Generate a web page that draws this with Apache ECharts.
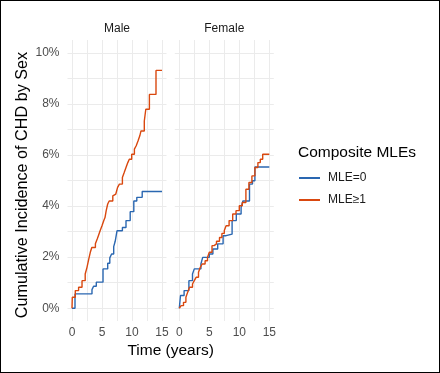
<!DOCTYPE html>
<html>
<head>
<meta charset="utf-8">
<script src="https://cdn.jsdelivr.net/npm/echarts@6/dist/echarts.min.js"></script>
<style>
html,body{margin:0;padding:0;background:#fff;}
#c{width:438px;height:371px;border:1px solid #000;}
</style>
</head>
<body>
<div id="c"></div>
<script>
// Data (time in years, cumulative incidence in %)
const panels = ["Male", "Female"];
const seriesNames = ["MLE=0", "MLE≥1"];
const xTickLabels = [0, 5, 10, 15];
const yTickLabels = [0, 2, 4, 6, 8, 10];

const maleMLE0_t = [0, 0.5, 3.33, 3.6, 4.05, 5.17, 5.95, 6.3, 6.6, 6.95, 7.2, 7.5, 8.4, 9.0, 9.7, 10.3, 10.8, 11.7, 15];
const maleMLE0_v = [0, 0.56, 0.73, 0.86, 1.02, 1.54, 1.76, 1.97, 2.12, 2.41, 2.62, 3.03, 3.16, 3.43, 3.78, 4.2, 4.34, 4.57, 4.57];

const maleMLE1_t = [0, 0.05, 0.55, 1.1, 1.67, 2.2, 2.5, 2.8, 3.05, 3.3, 3.9, 4.2, 4.4, 4.7, 5.0, 5.3, 5.5, 5.7, 5.95, 6.2, 6.8, 7.05, 7.3, 7.6, 7.9, 8.4, 8.7, 9.0, 9.3, 9.55, 9.95, 10.4, 10.7, 11.0, 11.3, 11.5, 12.05, 12.3, 12.9, 14.0, 15];
const maleMLE1_v = [0, 0.43, 0.69, 0.82, 1.08, 1.34, 1.6, 1.93, 2.19, 2.38, 2.52, 2.71, 2.84, 3.04, 3.23, 3.43, 3.55, 3.82, 4.08, 4.2, 4.4, 4.47, 4.53, 4.73, 4.86, 5.12, 5.31, 5.51, 5.70, 5.83, 6.03, 6.23, 6.36, 6.55, 6.75, 6.94, 7.33, 7.79, 8.37, 9.31, 9.31];

const femaleMLE0_t = [0, 0.2, 0.8, 1.6, 2.2, 2.5, 3.6, 3.9, 5.0, 5.6, 6.4, 7.3, 7.8, 8.8, 9.5, 10.3, 10.6, 11.7, 12.2, 12.6, 15];
const femaleMLE0_v = [0, 0.5, 0.69, 1.08, 1.34, 1.54, 1.73, 1.99, 2.12, 2.32, 2.52, 2.84, 2.9, 3.43, 3.69, 3.95, 4.2, 4.86, 4.99, 5.53, 5.53];

const femaleMLE1_t = [0, 0.3, 0.7, 1.1, 1.4, 1.7, 2.2, 2.5, 2.8, 3.2, 3.5, 3.8, 4.3, 4.7, 5.0, 5.45, 5.8, 6.2, 6.7, 7.1, 7.5, 7.8, 8.3, 8.9, 9.45, 10.0, 10.5, 11.1, 11.6, 12.1, 12.6, 13.1, 13.5, 13.9, 15];
const femaleMLE1_v = [0, 0.1, 0.23, 0.43, 0.63, 0.82, 0.95, 1.08, 1.21, 1.41, 1.6, 1.73, 1.86, 1.99, 2.19, 2.45, 2.52, 2.62, 2.77, 2.93, 3.04, 3.23, 3.43, 3.69, 3.82, 4.01, 4.14, 4.66, 4.92, 5.18, 5.51, 5.70, 5.83, 6.03, 6.03];

const colors = ["#2A67B1", "#D9480F"];
const pair = (t, v) => t.map((x, i) => [x, v[i]]);
const dataSets = [
  [pair(maleMLE0_t, maleMLE0_v), pair(maleMLE1_t, maleMLE1_v)],
  [pair(femaleMLE0_t, femaleMLE0_v), pair(femaleMLE1_t, femaleMLE1_v)]
];

const gridLefts = [66.5, 173.8];
const gridW = 99, gridTop = 39, gridH = 281;
const font = "Liberation Sans, Arial, sans-serif";

const xMinorTicks = [0, 2.5, 5, 7.5, 10, 12.5, 15];
const yMinorTicks = [0, 1, 2, 3, 4, 5, 6, 7, 8, 9, 10];

const chart = echarts.init(document.getElementById('c'), null, {renderer: 'canvas'});

const grids = [], xAxes = [], yAxes = [], series = [];
panels.forEach((p, i) => {
  grids.push({left: gridLefts[i], top: gridTop, width: gridW, height: gridH, containLabel: false});
  xAxes.push({
    type: 'value', gridIndex: i, min: -0.75, max: 15.75,
    axisLine: {show: false},
    axisTick: {show: false, customValues: xMinorTicks},
    axisLabel: {customValues: xTickLabels, color: '#4D4D4D', fontSize: 12, fontFamily: font, margin: 6},
    splitLine: {show: true, lineStyle: {color: '#EBEBEB', width: 1}}
  });
  yAxes.push({
    type: 'value', gridIndex: i, min: -0.5, max: 10.5,
    axisLine: {show: false},
    axisTick: {show: false, customValues: yMinorTicks},
    axisLabel: {show: i === 0, customValues: yTickLabels, formatter: v => v + '%', color: '#4D4D4D', fontSize: 12, fontFamily: font, margin: 8},
    splitLine: {show: true, lineStyle: {color: '#EBEBEB', width: 1}}
  });
  dataSets[i].forEach((d, k) => {
    series.push({
      name: seriesNames[k], type: 'line', step: 'end',
      xAxisIndex: i, yAxisIndex: i,
      data: d, showSymbol: false, symbol: 'none',
      lineStyle: {color: colors[k], width: 1.4},
      itemStyle: {color: colors[k]},
      z: 3 + k, silent: true, animation: false
    });
  });
});

chart.setOption({
  animation: false,
  backgroundColor: '#fff',
  grid: grids,
  xAxis: xAxes,
  yAxis: yAxes,
  series: series,
  legend: {
    data: seriesNames,
    orient: 'vertical',
    left: 293, top: 166,
    itemWidth: 21, itemHeight: 2, itemGap: 10,
    icon: 'rect',
    textStyle: {color: '#1A1A1A', fontSize: 12, fontFamily: font, padding: [0, 0, 0, 3]}
  },
  graphic: [
    {type: 'text', left: 297, top: 144, style: {text: 'Composite MLEs', fontSize: 15.5, fontFamily: font, fill: '#000'}},
    {type: 'text', x: 116, y: 28, style: {text: panels[0], fontSize: 12, fontFamily: font, fill: '#1A1A1A', align: 'center', verticalAlign: 'middle'}},
    {type: 'text', x: 223.3, y: 28, style: {text: panels[1], fontSize: 12, fontFamily: font, fill: '#1A1A1A', align: 'center', verticalAlign: 'middle'}},
    {type: 'text', x: 169.6, y: 350, style: {text: 'Time (years)', fontSize: 15.5, fontFamily: font, fill: '#000', align: 'center', verticalAlign: 'middle'}},
    {type: 'text', x: 22, y: 184, rotation: Math.PI / 2, style: {text: 'Cumulative Incidence of CHD by Sex', fontSize: 16.2, fontFamily: font, fill: '#000', align: 'center', verticalAlign: 'middle'}}
  ]
});
</script>
</body>
</html>
